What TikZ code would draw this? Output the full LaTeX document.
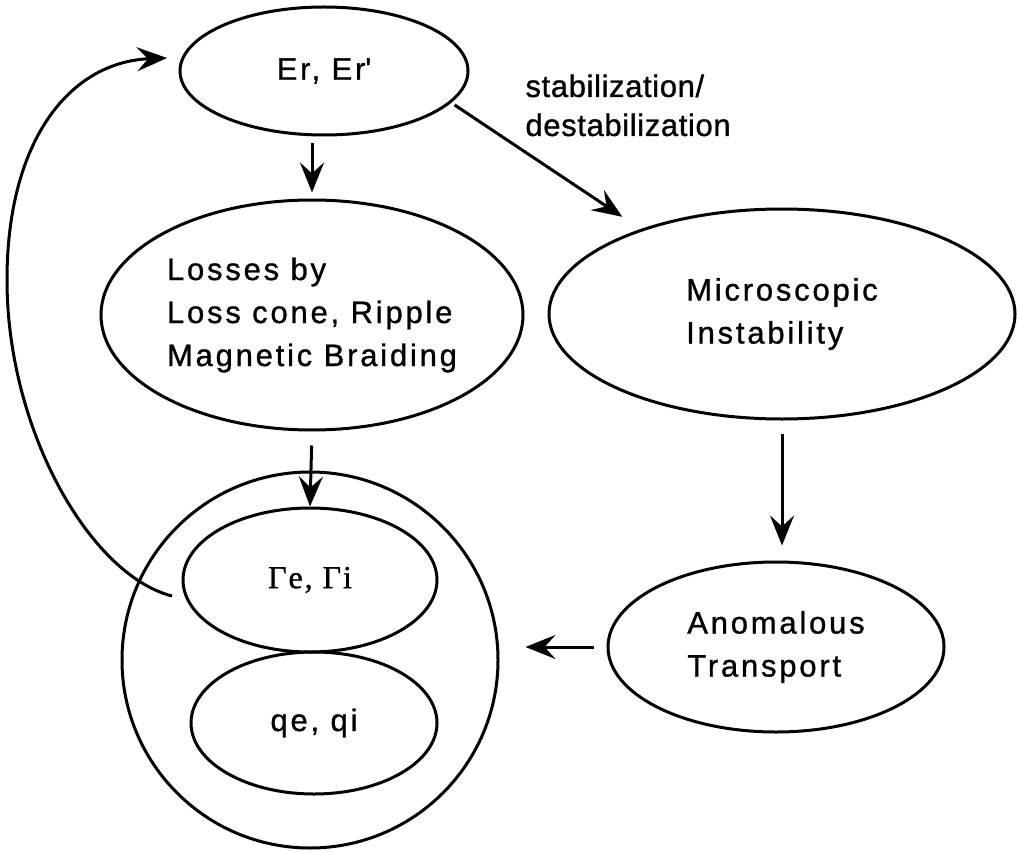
\documentclass[tikz,border=0pt]{standalone}
\usepackage{fontspec}
\setmainfont{Liberation Sans}[LetterSpace=9,FakeBold=1]
\newfontfamily\gamfont{Liberation Serif}[LetterSpace=6,FakeBold=1]
\newfontfamily\stabfont{Liberation Sans}[LetterSpace=2,FakeBold=1]
\usetikzlibrary{shapes.geometric, arrows.meta, calc}

\begin{document}
\begin{tikzpicture}[x=1pt,y=-1pt,line width=3pt,
  every node/.style={inner sep=0pt,font=\fontsize{31}{43}\selectfont},
  oval/.style={draw,shape=ellipse,align=left},
  arr/.style={-{Stealth[length=30pt,width=24pt,inset=11pt]}}]
  \useasboundingbox (0,0) rectangle (1017,853);
  \path (324,71) node[oval,minimum width=288pt,minimum height=128pt] (er) {Er, Er\textquotesingle}
  (312,315) node[oval,minimum width=422pt,minimum height=230pt] (los) {Losses by\\Loss cone, Ripple\\Magnetic Braiding}
  (782,314) node[oval,minimum width=466pt,minimum height=210pt] (mic) {Microscopic\\Instability}
  (776,647) node[oval,minimum width=336pt,minimum height=170pt] (ano) {Anomalous\\Transport}
  (310,660) node[draw,shape=circle,minimum size=376pt] (flux) {}
  (310,580) node[oval,minimum width=254pt,minimum height=144pt] (gam) {\gamfont\fontsize{32}{43}\selectfont Γe, Γi}
  (314,723) node[oval,minimum width=246pt,minimum height=142pt] (qq) {qe, qi}
  (524,73) node[anchor=north west,align=left,font=\stabfont\fontsize{31}{39}\selectfont] (stab) {stabilization/\\destabilization};
  \coordinate (fbs) at (172,596);
  \coordinate (fbm) at (7,280);
  \coordinate (fbe) at (167,58);
  \draw[arr,shorten <=7pt,shorten >=6pt] (los.north |- er.south) -- (los.north);
  \draw[arr,shorten <=4pt,shorten >=22pt] (er.-14) -- (mic.149);
  \draw[arr,shorten <=14pt] (los.south) -- (gam.north);
  \draw[arr,shorten <=13pt,shorten >=15pt] (mic.south) -- (mic.south |- ano.north);
  \draw[arr,shorten <=13pt,shorten >=26pt] (ano.west) -- (ano.west -| flux.east);
  \draw[arr] (fbs) .. controls (90,575) and (7,430) .. (fbm) .. controls (7,140) and (70,62) .. (fbe);
\end{tikzpicture}
\end{document}
